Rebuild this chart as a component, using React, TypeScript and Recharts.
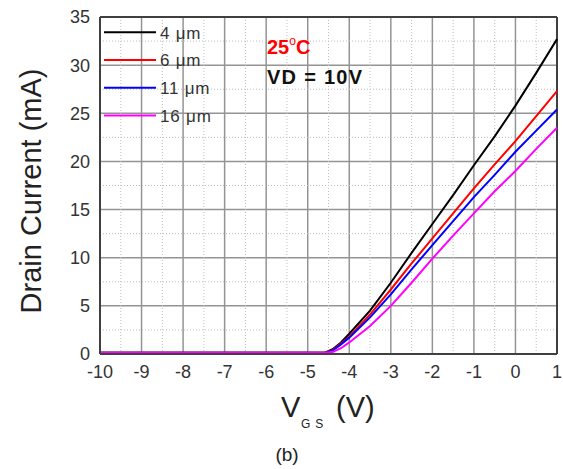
import React from 'react';
import { LineChart, Line, XAxis, YAxis, CartesianGrid, ReferenceLine } from 'recharts';

const vgs = [-10, -4.6, -4.4, -4.2, -4.0, -3.5, -3.0, -2.5, -2.0, -1.5, -1.0, -0.5, 0, 0.5, 1.0];
const id4 = [0.12, 0.12, 0.5, 1.2, 2.1, 4.5, 7.4, 10.5, 13.5, 16.5, 19.6, 22.6, 25.8, 29.2, 32.7];
const id6 = [0.12, 0.12, 0.4, 1.1, 1.8, 4.1, 6.7, 9.4, 12.0, 14.6, 17.2, 19.7, 22.1, 24.7, 27.3];
const id11 = [0.12, 0.12, 0.35, 1.0, 1.7, 3.8, 6.2, 8.8, 11.3, 13.8, 16.3, 18.6, 21.0, 23.2, 25.4];
const id16 = [0.12, 0.12, 0.2, 0.6, 1.2, 2.9, 5.0, 7.4, 9.9, 12.3, 14.6, 16.9, 19.0, 21.3, 23.5];

const seriesNames = ['4 μm', '6 μm', '11 μm', '16 μm'];
const seriesKeys = ['w4', 'w6', 'w11', 'w16'];
const seriesColors = ['#000000', '#ff0000', '#0000ff', '#ff00ff'];
const seriesValues = [id4, id6, id11, id16];

const xTicks = [-10, -9, -8, -7, -6, -5, -4, -3, -2, -1, 0, 1];
const yTicks = [0, 5, 10, 15, 20, 25, 30, 35];
const minorX = [-9.5, -8.5, -7.5, -6.5, -5.5, -4.5, -3.5, -2.5, -1.5, -0.5, 0.5];
const minorY = [2.5, 7.5, 12.5, 17.5, 22.5, 27.5, 32.5];

const rows = vgs.map((v, i) => {
  const r: Record<string, number> = { v };
  seriesKeys.forEach((k, j) => { r[k] = seriesValues[j][i]; });
  return r;
});

const FONT = '"Liberation Sans", Arial, sans-serif';
const tickStyle = { fontSize: 18, fill: '#333333', fontFamily: FONT };
const axisLineStyle = { stroke: '#404040', strokeWidth: 2 };

export default function App() {
  return (
    <div style={{ position: 'fixed', left: 0, top: 0, width: 563, height: 469, background: '#fff' }}>
      <LineChart width={563} height={469} data={rows} margin={{ top: 17, right: 6, bottom: 0, left: 0 }}>
        {minorX.map((x) => (
          <ReferenceLine key={'mx' + x} x={x} stroke="#bdbdbd" strokeWidth={1} strokeDasharray="1 2" />
        ))}
        {minorY.map((y) => (
          <ReferenceLine key={'my' + y} y={y} stroke="#bdbdbd" strokeWidth={1} strokeDasharray="1 2" />
        ))}
        <CartesianGrid stroke="#949494" strokeWidth={1.5} />
        <XAxis
          dataKey="v"
          type="number"
          domain={[-10, 1]}
          ticks={xTicks}
          interval={0}
          height={115}
          tickLine={false}
          tickSize={0}
          tickMargin={11}
          axisLine={axisLineStyle}
          tick={tickStyle}
        />
        <YAxis
          type="number"
          domain={[0, 35]}
          ticks={yTicks}
          interval={0}
          width={100}
          tickLine={false}
          tickSize={0}
          tickMargin={10}
          axisLine={axisLineStyle}
          tick={tickStyle}
        />
        <ReferenceLine y={35} stroke="#404040" strokeWidth={2} />
        <ReferenceLine x={1} stroke="#404040" strokeWidth={2} />
        {seriesKeys.map((k, j) => (
          <Line
            key={k}
            dataKey={k}
            type="linear"
            stroke={seriesColors[j]}
            strokeWidth={2}
            dot={false}
            isAnimationActive={false}
          />
        ))}
      </LineChart>
      <svg width={563} height={469} style={{ position: 'absolute', left: 0, top: 0, pointerEvents: 'none' }}>
        {seriesNames.map((n, j) => (
          <g key={n}>
            <line x1={104} x2={156} y1={32.3 + j * 27.7} y2={32.3 + j * 27.7} stroke={seriesColors[j]} strokeWidth={2} />
            <text x={160} y={32.3 + j * 27.7 + 6.2} fontSize={17} fill="#333" fontFamily={FONT} letterSpacing={0.8}>
              {n.replace(' ', '\u00a0')}
            </text>
          </g>
        ))}
        <text x={267} y={54} fontSize={20} fontWeight="bold" fill="#ff0000" fontFamily={FONT}>
          25
          <tspan fontSize={12} fontWeight="normal" dy={-9}>o</tspan>
          <tspan dy={9}>C</tspan>
        </text>
        <text x={267} y={83.5} fontSize={20} fontWeight="bold" fill="#111" fontFamily={FONT} textLength={95} lengthAdjust="spacing">
          VD = 10V
        </text>
        <text
          x={41}
          y={191}
          transform="rotate(-90 41 191)"
          textAnchor="middle"
          fontSize={29}
          fill="#222"
          fontFamily={FONT}
        >
          Drain Current (mA)
        </text>
        <text x={281} y={417} fontSize={29} fill="#222" fontFamily={FONT}>V</text>
        <text x={301} y={427.5} fontSize={12} fill="#222" fontFamily={FONT} letterSpacing={5}>GS</text>
        <text x={336} y={417} fontSize={29} fill="#222" fontFamily={FONT}>(V)</text>
        <text x={287} y={461} textAnchor="middle" fontSize={19} fill="#222" fontFamily={FONT}>(b)</text>
      </svg>
    </div>
  );
}
